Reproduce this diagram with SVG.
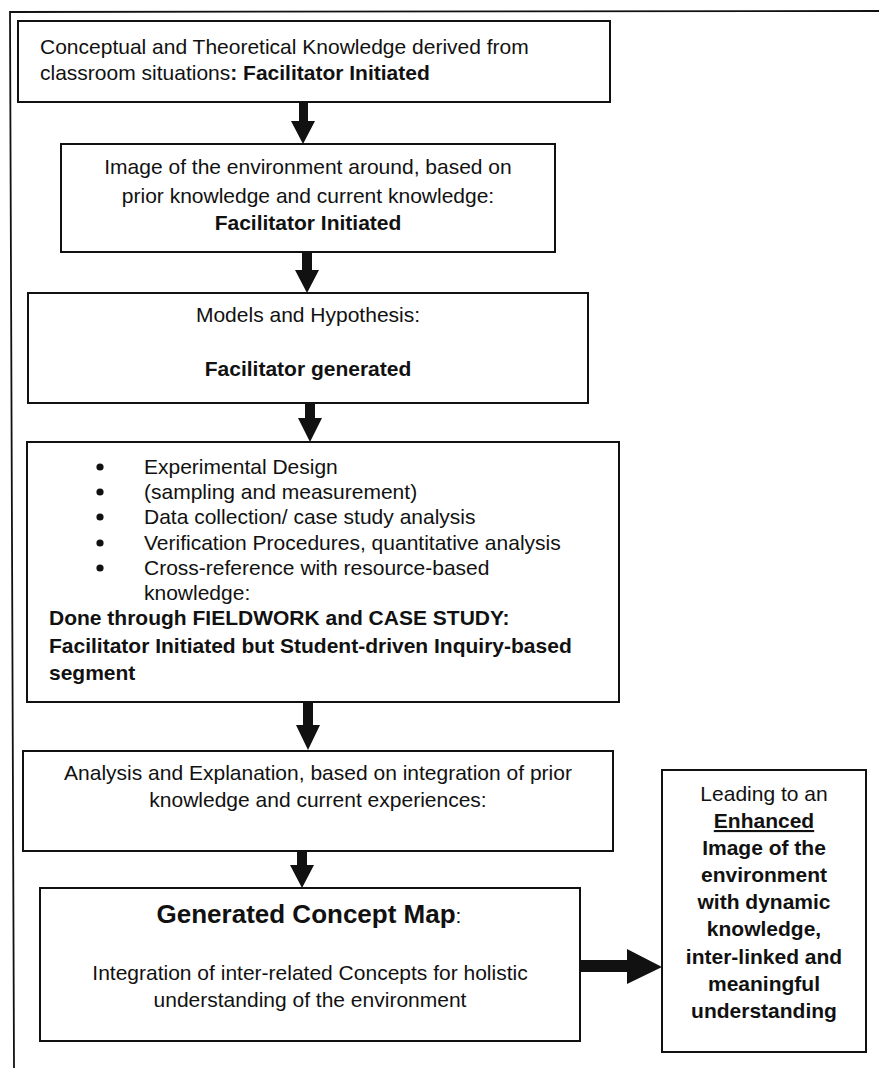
<svg xmlns="http://www.w3.org/2000/svg" width="879" height="1068" viewBox="0 0 879 1068">
<style>
text{font-family:"Liberation Sans",Arial,sans-serif;font-size:21px;fill:#111}
.b{font-weight:bold}
.c{text-anchor:middle}
.box{fill:#fff;stroke:#111;stroke-width:2}
.frame{fill:none;stroke:#111;stroke-width:1.8}
.arr{fill:#111;stroke:none}
</style>
<rect width="879" height="1068" fill="#fff"/>
<g id="frame">
<polyline class="frame" points="879,11 10,12 14,1068"/>
</g>
<g id="connectors">
<polygon class="arr" points="299,102 308,102 308,121 315,121 303,144 291,121 299,121"/>
<polygon class="arr" points="302,252 312,252 312,270 319,270 307,293 295,270 302,270"/>
<polygon class="arr" points="305,403 315,403 315,418 322,418 310,442 298,418 305,418"/>
<polygon class="arr" points="303,702 313,702 313,725 320,725 308,750 296,725 303,725"/>
<polygon class="arr" points="297,851 307,851 307,865 314,865 302,888 290,865 297,865"/>
<polygon class="arr" points="580,960 627,960 627,949 662,967 627,984 627,972 580,972"/>
</g>
<g id="n1">
<rect class="box" x="18" y="21" width="592" height="81"/>
<text x="40" y="54">Conceptual and Theoretical Knowledge derived from</text>
<text x="40" y="80">classroom situations<tspan class="b">: Facilitator Initiated</tspan></text>
</g>
<g id="n2">
<rect class="box" x="61" y="144" width="494" height="108"/>
<text class="c" x="308" y="174">Image of the environment around, based on</text>
<text class="c" x="308" y="203">prior knowledge and current knowledge:</text>
<text class="c b" x="308" y="230">Facilitator Initiated</text>
</g>
<g id="n3">
<rect class="box" x="28" y="293" width="560" height="110"/>
<text class="c" x="308" y="322">Models and Hypothesis:</text>
<text class="c b" x="308" y="376">Facilitator generated</text>
</g>
<g id="n4">
<rect class="box" x="27" y="442" width="592" height="260"/>
<g fill="#111">
<circle cx="100" cy="467" r="3.6"/>
<circle cx="100" cy="492" r="3.6"/>
<circle cx="100" cy="517" r="3.6"/>
<circle cx="100" cy="543" r="3.6"/>
<circle cx="100" cy="568" r="3.6"/>
</g>
<text x="144" y="474">Experimental Design</text>
<text x="144" y="499">(sampling and measurement)</text>
<text x="144" y="524">Data collection/ case study analysis</text>
<text x="144" y="550">Verification Procedures, quantitative analysis</text>
<text x="144" y="575">Cross-reference with resource-based</text>
<text x="144" y="600">knowledge:</text>
<text class="b" x="49" y="625">Done through FIELDWORK and CASE STUDY:</text>
<text class="b" x="49" y="653">Facilitator Initiated but Student-driven Inquiry-based</text>
<text class="b" x="49" y="680">segment</text>
</g>
<g id="n5">
<rect class="box" x="23" y="751" width="590" height="100"/>
<text class="c" x="318" y="780">Analysis and Explanation, based on integration of prior</text>
<text class="c" x="318" y="807">knowledge and current experiences:</text>
</g>
<g id="n6">
<rect class="box" x="40" y="888" width="540" height="153"/>
<text class="c" x="309" y="923"><tspan class="b" style="font-size:26px">Generated Concept Map</tspan>:</text>
<text class="c" x="310" y="980">Integration of inter-related Concepts for holistic</text>
<text class="c" x="310" y="1007">understanding of the environment</text>
</g>
<g id="n7">
<rect class="box" x="662" y="770" width="204" height="282"/>
<text class="c" x="764" y="801">Leading to an</text>
<text class="c b" x="764" y="828" text-decoration="underline">Enhanced</text>
<text class="c b" x="764" y="855">Image of the</text>
<text class="c b" x="764" y="882">environment</text>
<text class="c b" x="764" y="909">with dynamic</text>
<text class="c b" x="764" y="936">knowledge,</text>
<text class="c b" x="764" y="964">inter-linked and</text>
<text class="c b" x="764" y="991">meaningful</text>
<text class="c b" x="764" y="1018">understanding</text>
</g>
</svg>
